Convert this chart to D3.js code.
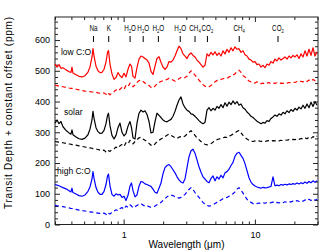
<!DOCTYPE html>
<html><head><meta charset="utf-8">
<script src="https://cdn.jsdelivr.net/npm/d3@7"></script>
<style>
body{margin:0;background:#fff}
svg{display:block;background:#fff}
text{font-family:"Liberation Sans",Arial,Helvetica,sans-serif;fill:#000}
</style>
</head><body>
<svg id="c" width="336" height="252"></svg>
<script>
// ---- data ----
const wavelength = [0.300,0.311,0.322,0.333,0.345,0.364,0.384,0.397,0.404,0.411,
0.434,0.457,0.482,0.508,0.535,0.554,0.574,0.584,0.595,0.616,
0.638,0.661,0.684,0.709,0.734,0.754,0.767,0.787,0.815,0.845,
0.875,0.906,0.938,0.972,1.007,1.042,1.080,1.118,1.148,1.179,
1.221,1.264,1.310,1.356,1.405,1.455,1.507,1.561,1.616,1.674,
1.734,1.796,1.860,1.926,1.995,2.066,2.140,2.217,2.296,2.378,
2.463,2.551,2.642,2.736,2.834,2.935,3.040,3.148,3.261,3.377,
3.498,3.623,3.752,3.886,4.025,4.168,4.317,4.472,4.631,4.796,
4.968,5.145,5.329,5.519,5.716,5.920,6.132,6.351,6.578,6.812,
7.056,7.308,7.569,7.839,8.119,8.409,8.709,9.020,9.342,9.676,
10.02,10.38,10.75,11.13,11.53,11.94,12.37,12.81,13.27,13.74,
14.23,14.74,15.27,15.81,16.38,16.96,17.57,18.20,18.85,19.52,
20.22,20.94,21.69,22.46,23.26,24.09,24.95,25.84,26.77,27.72,
28.71,29.74];

const lowCO = [522,512,520,508,510,503,497,495,512,493,
487,482,480,484,496,512,545,572,548,515,
500,494,495,505,528,560,566,522,490,472,
478,494,484,478,492,480,505,522,515,482,
476,510,538,548,545,540,535,525,498,488,
515,540,546,528,512,505,512,530,528,535,
548,565,580,572,555,548,540,552,558,550,
545,535,528,520,512,518,555,548,560,552,
562,550,558,548,565,555,570,560,575,565,
578,570,572,560,565,552,548,538,535,528,
530,520,522,512,518,510,522,518,530,525,
538,532,542,535,540,545,538,548,542,550,
545,552,540,555,545,565,548,570,550,575,
548,562];

const lowCOdashed = [453,452,450,449,448,446,444,443,443,442,
440,438,436,434,433,432,431,431,430,430,
428,427,426,428,424,420,426,422,428,432,
438,434,440,446,440,452,448,460,456,448,
454,462,468,470,465,460,458,452,446,444,
450,458,462,465,468,470,472,476,472,470,
466,470,474,478,475,478,482,492,500,494,
486,478,470,462,455,450,447,448,452,458,
464,468,470,472,474,476,475,480,482,486,
490,498,502,495,484,480,472,467,464,462,
460,464,462,458,460,457,460,462,458,460,
459,461,458,460,459,461,460,462,461,463,
462,465,463,466,464,468,465,470,466,472,
468,474];

const solar = [330,340,328,335,318,306,298,294,308,292,
285,279,277,281,292,310,340,368,345,315,
302,296,297,306,328,355,362,322,290,278,
290,315,330,300,288,296,320,335,315,282,
278,330,362,372,366,370,358,335,298,300,
335,362,355,348,340,336,334,338,342,352,
368,388,405,415,392,380,372,368,360,358,
352,345,338,332,328,332,372,380,370,378,
372,384,378,390,380,396,385,398,390,402,
392,400,388,392,380,375,366,360,352,348,
342,336,332,328,332,330,338,335,345,350,
356,352,360,356,365,360,370,364,374,368,
378,372,382,376,388,378,392,380,398,384,
400,388];

const solarDashed = [270,269,268,267,266,264,262,261,260,260,
258,256,254,252,250,249,248,247,247,246,
244,242,240,242,236,234,240,238,244,246,
252,248,256,260,254,266,262,274,268,262,
270,276,282,284,278,274,270,264,258,256,
262,270,274,278,282,286,290,294,290,286,
282,280,284,286,284,288,294,300,305,298,
290,282,276,270,265,261,259,260,263,268,
272,276,278,280,282,284,283,288,290,294,
298,303,306,298,290,283,278,274,271,270,
272,274,272,270,272,270,272,273,271,273,
272,274,272,274,273,275,274,276,275,277,
276,279,277,280,278,282,279,284,280,286,
282,288];

const highCO = [130,128,126,123,120,116,110,106,118,104,
99,94,92,96,108,122,148,172,150,120,
105,98,98,108,130,158,164,126,98,92,
100,96,98,88,92,78,95,125,135,110,
90,96,125,140,138,132,130,127,124,115,
105,102,118,135,165,185,192,195,188,178,
168,155,145,138,135,148,185,220,240,245,
232,210,188,170,155,148,140,136,150,158,
142,155,148,160,152,168,172,180,192,202,
222,232,235,225,215,198,175,152,138,130,
125,122,120,118,121,119,120,122,124,155,
126,128,126,130,128,131,129,132,130,133,
131,135,132,136,133,138,134,140,136,142,
137,142];

const highCOdashed = [62,61,60,59,58,56,54,52,52,51,
49,47,45,44,42,41,40,40,39,38,
37,36,35,37,33,30,36,34,40,44,
48,45,52,55,50,60,56,64,60,54,
58,62,66,68,63,60,62,58,56,58,
60,64,68,72,78,84,90,94,96,94,
90,88,86,88,92,98,106,114,120,114,
104,96,88,80,72,66,62,60,61,64,
68,72,76,80,84,86,88,92,96,100,
106,115,120,112,102,92,82,76,72,68,
66,68,70,68,71,69,72,70,71,73,
70,72,70,73,71,74,72,75,73,76,
74,78,75,78,76,80,77,82,78,83,
79,82];

const yTickValues = [0,100,200,300,400,500,600];
const xTickLabels = [1,10];
const featureNames = ["Na","K","H_2O","H_2O","H_2O","H_2O","CH_4","CO_2","CH_4","CO_2"];
const featureWavelengths = [0.589,0.77,1.12,1.41,1.84,2.7,3.5,4.35,7.6,15];
const caseNames = ["low C:O","solar","high C:O"];
const caseLabelValues = [552,357,165];
const caseLabelWavelengths = [0.333,0.352,0.311];

// ---- layout ----
const L=55, R=318, T=17, B=224.5;
const svg = d3.select("#c");
const x = d3.scaleLog().domain([0.3,30]).range([L,317.5]);
const y = d3.scaleLinear().domain([0,675]).range([B,T]);

const minorX = [0.3,0.4,0.5,0.6,0.7,0.8,0.9,2,3,4,5,6,7,8,9,20,30];
const minorY = d3.range(20,675,20).filter(v=>v%100!==0);

function styleAxis(g){
  g.select(".domain").remove();
  g.selectAll(".tick line").attr("stroke","#222").attr("stroke-width",1);
  g.selectAll("text").attr("font-size","9px").attr("font-family",'"Liberation Sans",Arial,sans-serif').attr("fill","#000");
}
// bottom
svg.append("g").attr("transform",`translate(0,${B})`)
  .call(d3.axisBottom(x).tickValues(xTickLabels).tickSize(-5).tickPadding(7).tickFormat(d3.format("d"))).call(styleAxis);
svg.append("g").attr("transform",`translate(0,${B})`)
  .call(d3.axisBottom(x).tickValues(minorX).tickSize(-3).tickFormat("")).call(styleAxis);
// top
svg.append("g").attr("transform",`translate(0,${T})`)
  .call(d3.axisTop(x).tickValues(xTickLabels).tickSize(-5).tickFormat("")).call(styleAxis);
svg.append("g").attr("transform",`translate(0,${T})`)
  .call(d3.axisTop(x).tickValues(minorX).tickSize(-3).tickFormat("")).call(styleAxis);
// left
svg.append("g").attr("transform",`translate(${L},0)`)
  .call(d3.axisLeft(y).tickValues(yTickValues).tickSize(-5).tickPadding(5)).call(styleAxis);
svg.append("g").attr("transform",`translate(${L},0)`)
  .call(d3.axisLeft(y).tickValues(minorY).tickSize(-3).tickFormat("")).call(styleAxis);
// right
svg.append("g").attr("transform",`translate(${R},0)`)
  .call(d3.axisRight(y).tickValues(yTickValues).tickSize(-5).tickFormat("")).call(styleAxis);
svg.append("g").attr("transform",`translate(${R},0)`)
  .call(d3.axisRight(y).tickValues(minorY).tickSize(-3).tickFormat("")).call(styleAxis);

// frame
svg.append("rect").attr("x",L).attr("y",T).attr("width",R-L).attr("height",B-T)
  .attr("fill","none").attr("stroke","#222").attr("stroke-width",1);

// series
const series = [
  {v:lowCO, c:"#ff0000", dash:null},
  {v:lowCOdashed, c:"#ff0000", dash:"4,3"},
  {v:solar, c:"#000000", dash:null},
  {v:solarDashed, c:"#000000", dash:"4,3"},
  {v:highCO, c:"#0000ff", dash:null},
  {v:highCOdashed, c:"#0000ff", dash:"4,3"}
];
const line = d3.line().x((d,i)=>x(wavelength[i])).y(d=>y(d));
series.forEach(s=>{
  svg.append("path").datum(s.v).attr("d",line)
    .attr("fill","none").attr("stroke",s.c).attr("stroke-width",1.2)
    .attr("stroke-linejoin","round")
    .attr("stroke-dasharray",s.dash);
});

// feature labels with subscripts (narrow, as in the reference)
featureNames.forEach((name,i)=>{
  const cx = x(featureWavelengths[i]);
  const t = svg.append("text")
    .attr("transform",`translate(${cx},31) scale(0.7,1)`)
    .attr("text-anchor","middle").attr("font-size","9px");
  const parts = name.split(/(_\d)/).filter(p=>p.length);
  let sub=false;
  parts.forEach(p=>{
    if(p[0]==="_"){ t.append("tspan").attr("font-size","6px").attr("dy",2).text(p.slice(1)); sub=true; }
    else { const ts=t.append("tspan").text(p); if(sub){ts.attr("dy",-2); sub=false;} }
  });
  svg.append("line").attr("x1",cx).attr("x2",cx).attr("y1",36).attr("y2",42)
    .attr("stroke","#000").attr("stroke-width",1);
});

// case labels
caseNames.forEach((n,i)=>{
  svg.append("text").attr("x",x(caseLabelWavelengths[i])).attr("y",y(caseLabelValues[i]))
    .attr("font-size","8.5px").text(n);
});

// axis titles
svg.append("text").attr("x",186.5).attr("y",248).attr("text-anchor","middle")
  .attr("font-size","10px").text("Wavelength (\u03bcm)");
svg.append("text").attr("transform","translate(12,113) rotate(-90)").attr("text-anchor","middle")
  .attr("font-size","10px").attr("textLength",192).attr("lengthAdjust","spacing")
  .text("Transit Depth + constant offset (ppm)");
</script>
</body></html>
